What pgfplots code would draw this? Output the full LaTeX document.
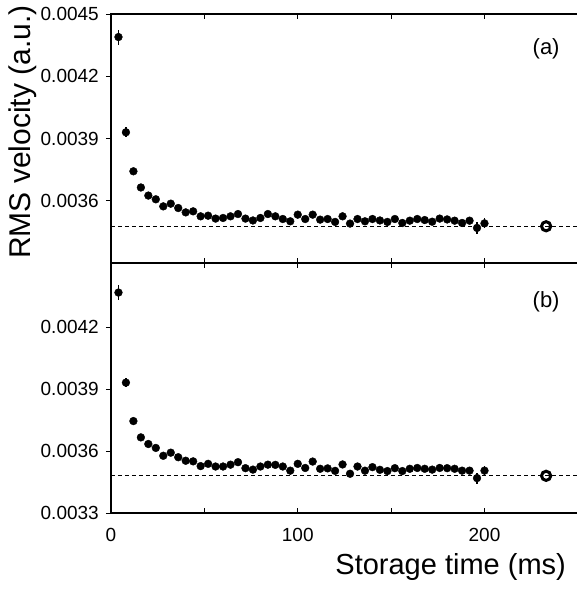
\documentclass[border=0pt]{standalone}
\usepackage{fontspec}
\setmainfont{Liberation Sans}
\usepackage{pgfplots}
\usepackage{pgfplotstable}
\pgfplotsset{compat=1.18}

\pgfplotstableread{
t v e
4 0.004389 0.000036
8 0.003930 0.000024
12 0.003742 0.000017
16 0.003664 0.000010
20 0.003625 0.000008
24 0.003607 0.000008
28 0.003573 0.000008
32 0.003586 0.000008
36 0.003565 0.000008
40 0.003544 0.000008
44 0.003549 0.000008
48 0.003525 0.000008
52 0.003528 0.000008
56 0.003514 0.000008
60 0.003517 0.000008
64 0.003525 0.000008
68 0.003536 0.000008
72 0.003514 0.000008
76 0.003505 0.000008
80 0.003517 0.000008
84 0.003536 0.000008
88 0.003525 0.000008
92 0.003512 0.000008
96 0.003501 0.000008
100 0.003533 0.000008
104 0.003512 0.000008
108 0.003533 0.000008
112 0.003509 0.000008
116 0.003512 0.000008
120 0.003498 0.000008
124 0.003525 0.000008
128 0.003490 0.000008
132 0.003512 0.000008
136 0.003501 0.000008
140 0.003512 0.000008
144 0.003505 0.000008
148 0.003498 0.000008
152 0.003512 0.000008
156 0.003493 0.000008
160 0.003504 0.000008
164 0.003512 0.000008
168 0.003507 0.000008
172 0.003499 0.000008
176 0.003514 0.000008
180 0.003510 0.000008
184 0.003504 0.000008
188 0.003493 0.000008
192 0.003504 0.000008
196 0.003469 0.000027
200 0.003491 0.000024
}\topdata

\pgfplotstableread{
t v e
4 0.004367 0.000037
8 0.003931 0.000022
12 0.003745 0.000017
16 0.003666 0.000010
20 0.003634 0.000008
24 0.003615 0.000008
28 0.003577 0.000008
32 0.003592 0.000008
36 0.003570 0.000008
40 0.003553 0.000008
44 0.003550 0.000008
48 0.003527 0.000008
52 0.003538 0.000008
56 0.003525 0.000008
60 0.003525 0.000008
64 0.003534 0.000008
68 0.003546 0.000008
72 0.003517 0.000008
76 0.003510 0.000008
80 0.003525 0.000008
84 0.003534 0.000008
88 0.003533 0.000008
92 0.003525 0.000008
96 0.003505 0.000008
100 0.003538 0.000008
104 0.003518 0.000008
108 0.003549 0.000008
112 0.003514 0.000008
116 0.003516 0.000008
120 0.003504 0.000008
124 0.003535 0.000008
128 0.003490 0.000008
132 0.003525 0.000008
136 0.003505 0.000008
140 0.003522 0.000008
144 0.003509 0.000008
148 0.003503 0.000008
152 0.003517 0.000008
156 0.003503 0.000008
160 0.003514 0.000008
164 0.003518 0.000008
168 0.003514 0.000008
172 0.003510 0.000008
176 0.003518 0.000008
180 0.003517 0.000008
184 0.003514 0.000008
188 0.003505 0.000008
192 0.003505 0.000008
196 0.003469 0.000027
200 0.003505 0.000024
}\botdata

\begin{document}
\begin{tikzpicture}
\pgfplotsset{
  panel/.style={
    width=470.6pt, scale only axis,
    xmin=0, xmax=252,
    scaled y ticks=false, scaled x ticks=false,
    xtick={0,50,100,150,200,250},
    xtick align=inside, ytick align=outside,
    major tick length=5pt, minor tick num=0,
    axis line style={line width=1.3pt},
    every tick/.style={black, line width=0.8pt},
    tick label style={font=\fontsize{19}{22}\selectfont},
    yticklabel style={anchor=east, inner sep=0pt, xshift=-7pt},
    xticklabel style={anchor=center, inner sep=0pt, yshift=-21.5pt},
    datapts/.style={only marks, mark=*, mark size=3.9pt,
      mark options={black, fill=black},
      error bars/.cd, y dir=both, y explicit,
      error bar style={line width=1.2pt, black}, error mark=none},
  }
}
\begin{axis}[panel, name=top, at={(0pt,0pt)}, anchor=north west,
  height=249pt, ymin=0.0033, ymax=0.0045,
  ytick={0.0036,0.0039,0.0042,0.0045},
  yticklabels={0.0036,0.0039,0.0042,0.0045},
  xticklabels={},
  ylabel={RMS velocity (a.u.)},
  ylabel style={at={(axis description cs:-0.187,0.526)}, anchor=center,
    font=\fontsize{30}{34}\selectfont, inner sep=0pt},
]
\addplot[black, line width=1pt, dash pattern=on 4pt off 3pt] coordinates {(0,0.003477) (252,0.003477)};
\addplot[datapts] table[x=t, y=v, y error=e] {\topdata};
\addplot[only marks, mark=o, mark size=4.6pt, mark options={black, line width=3pt, fill=white}] coordinates {(233,0.003477)};
\node[font=\fontsize{22}{26}\selectfont] at (axis cs:233,0.004332) {(a)};
\end{axis}
\begin{axis}[panel, name=bot, at={(top.south west)}, anchor=north west,
  height=250pt, ymin=0.0033, ymax=0.00451,
  ytick={0.0033,0.0036,0.0039,0.0042},
  yticklabels={0.0033,0.0036,0.0039,0.0042},
  xticklabels={0,,100,,200,},
  xlabel={Storage time (ms)},
  xlabel style={at={(axis description cs:0.967,0)}, anchor=east,
    yshift=-54pt, font=\fontsize{29}{33}\selectfont, inner sep=0pt},
]
\addplot[black, line width=1pt, dash pattern=on 4pt off 3pt] coordinates {(0,0.003481) (252,0.003481)};
\addplot[datapts] table[x=t, y=v, y error=e] {\botdata};
\addplot[only marks, mark=o, mark size=4.6pt, mark options={black, line width=3pt, fill=white}] coordinates {(233,0.003480)};
\node[font=\fontsize{22}{26}\selectfont] at (axis cs:233,0.00432) {(b)};
\end{axis}
\pgfresetboundingbox
\useasboundingbox (-111pt,14pt) rectangle (465pt,-578pt);
\end{tikzpicture}
\end{document}
